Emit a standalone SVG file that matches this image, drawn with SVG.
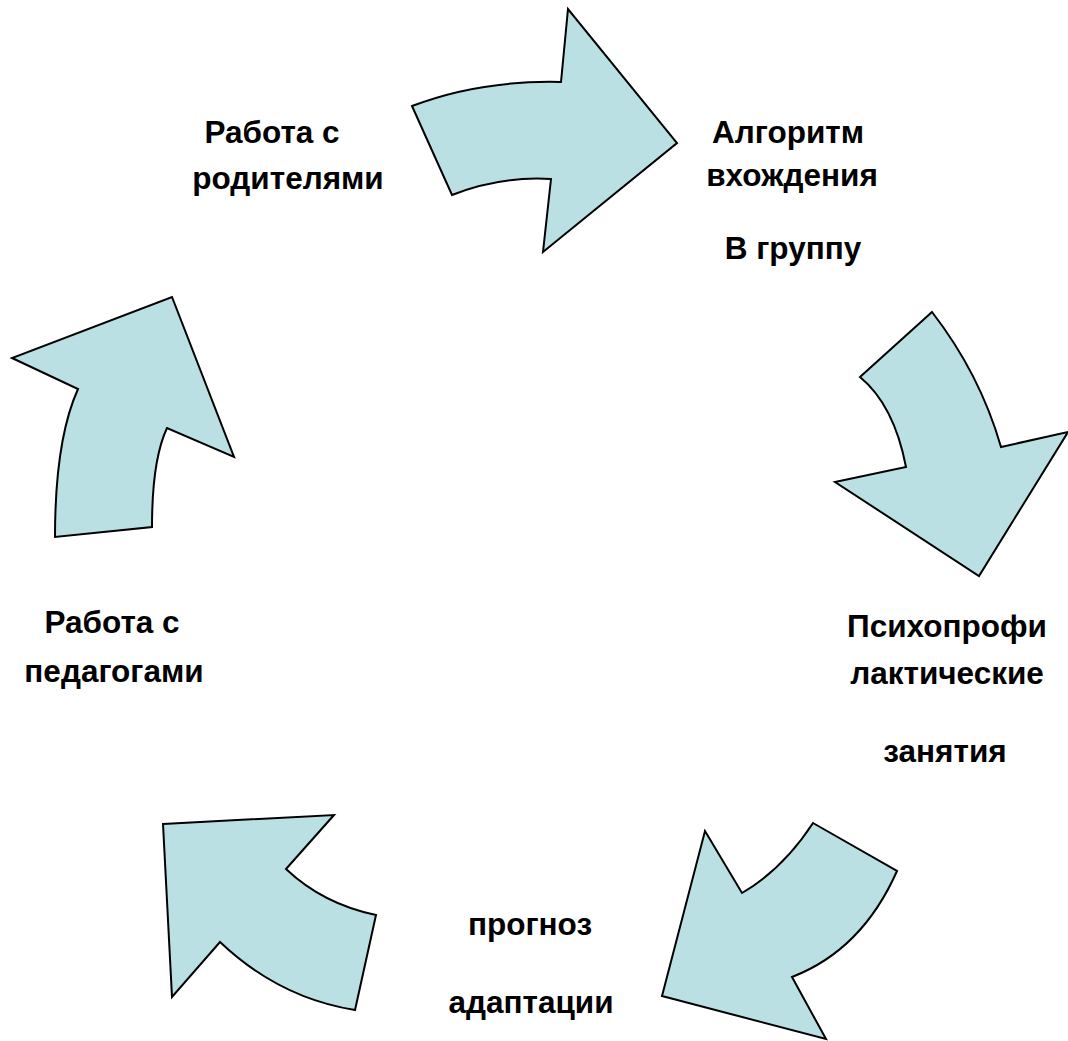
<svg xmlns="http://www.w3.org/2000/svg" width="1068" height="1041" viewBox="0 0 1068 1041">
<style>
.arr{fill:#BBE0E3;stroke:#000;stroke-width:2;stroke-linejoin:miter}
.lbl{font-family:"Liberation Sans",Arial,sans-serif;font-weight:bold;font-size:31.5px;fill:#000;text-anchor:middle}
</style>
<rect width="1068" height="1041" fill="#fff"/>
<g id="connectors">
<path id="arrow-top" class="arr" d="M412,106 Q480,80 561,82 L568,9 L677,143 L543,252 L551,179 Q499,176 452,195 Z"/>
<path id="arrow-right" class="arr" d="M860,377 L932,312 Q980,374 1001,447 L1068,432 L979,576 L835,482 L906,467 Q894,405 860,377 Z"/>
<path id="arrow-bottom-right" class="arr" d="M813,823 L897,871 Q862,950 792,977 L826,1039 L662,996 L705,831 L742,893 Q783,869 813,823 Z"/>
<path id="arrow-bottom-left" class="arr" d="M163,824 L334,815 L286,869 Q323,904 376,915 L355,1010 Q279,998 220,942 L172,997 Z"/>
<path id="arrow-left" class="arr" d="M55,537 Q55,440 78,389 L12,358 L172,297 L234,457 L167,428 Q152,460 152,527 Z"/>
</g>
<g id="node-parents">
<text class="lbl" x="272" y="143">Работа с</text>
<text class="lbl" x="288" y="189">родителями</text>
</g>
<g id="node-algorithm">
<text class="lbl" x="788" y="143">Алгоритм</text>
<text class="lbl" x="792" y="186">вхождения</text>
<text class="lbl" x="793" y="259">В группу</text>
</g>
<g id="node-psycho">
<text class="lbl" x="947" y="637">Психопрофи</text>
<text class="lbl" x="947" y="684">лактические</text>
<text class="lbl" x="945" y="762">занятия</text>
</g>
<g id="node-prognosis">
<text class="lbl" x="530" y="935">прогноз</text>
<text class="lbl" x="531" y="1013">адаптации</text>
</g>
<g id="node-teachers">
<text class="lbl" x="112" y="633">Работа с</text>
<text class="lbl" x="114" y="682">педагогами</text>
</g>
</svg>
